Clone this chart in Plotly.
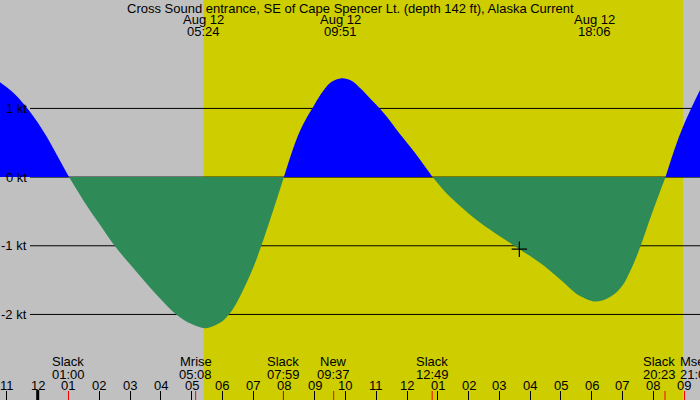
import plotly.graph_objects as go

# ---- data (hours relative to midnight Aug 12; speeds in knots) ----
flood1_t = [-1.225, -0.75, -0.25, 0.25, 0.65, 1.017]
flood1_v = [1.38, 1.21, 0.95, 0.62, 0.30, 0.0]

ebb1_t = [1.017, 1.5, 2.0, 2.5, 3.0, 3.5, 4.0, 4.5, 5.0, 5.435, 5.75, 6.0, 6.25, 6.5, 7.0, 7.5, 8.0]
ebb1_v = [0.0, -0.35, -0.68, -1.0, -1.27, -1.53, -1.78, -2.0, -2.14, -2.2, -2.16, -2.1, -1.98, -1.8,
          -1.32, -0.69, 0.0]

flood2_t = [8.0, 8.5, 9.0, 9.25, 9.5, 9.7, 9.88, 10.05, 10.25, 10.5, 10.75, 11.25, 11.75, 12.25, 12.83]
flood2_v = [0.0, 0.65, 1.06, 1.24, 1.37, 1.42, 1.44, 1.43, 1.39, 1.285, 1.17, 0.93, 0.64, 0.36, 0.0]

ebb2_t = [12.83, 13.25, 13.75, 14.25, 14.75, 15.25, 15.65, 16.0, 16.5, 17.0, 17.5, 17.8, 18.11, 18.4,
          18.75, 19.0, 19.25, 19.5, 20.0, 20.40]
ebb2_v = [0.0, -0.22, -0.43, -0.62, -0.78, -0.93, -1.05, -1.15, -1.31, -1.50, -1.70, -1.77, -1.81, -1.79,
          -1.70, -1.58, -1.37, -1.11, -0.48, 0.0]

flood3_t = [20.40, 20.75, 21.1, 21.52]
flood3_v = [0.0, 0.48, 0.87, 1.27]

now_t = [15.65]
now_v = [-1.05]

x_range = [-1.225, 21.52]
y_range = [-3.246, 2.579]

sunrise = 5.39
sunset = 20.965

tick_hours = list(range(-1, 22))
tick_labels = ["11", "12", "01", "02", "03", "04", "05", "06", "07", "08", "09", "10",
               "11", "12", "01", "02", "03", "04", "05", "06", "07", "08", "09"]

grid_values = [1, 0, -1, -2]
grid_labels = ["1 kt", "0 kt", "-1 kt", "-2 kt"]

event_t = [1.0, 5.133, 7.983, 9.617, 12.817, 20.383, 21.017]
event_name = ["Slack", "Mrise", "Slack", "New", "Slack", "Slack", "Mset"]
event_time = ["01:00", "05:08", "07:59", "09:37", "12:49", "20:23", "21:01"]
event_shift = [0, 0, 0, 0, 0, -6, -7]
event_anchor = ["center", "center", "center", "center", "center", "center", "left"]

top_t = [5.4, 9.85, 18.1]
top_date = ["Aug 12", "Aug 12", "Aug 12"]
top_time = ["05:24", "09:51", "18:06"]

title = "Cross Sound entrance, SE of Cape Spencer Lt. (depth 142 ft), Alaska Current"

FLOOD = "#0000FF"
EBB = "#2E8B57"
NIGHT = "#C0C0C0"
DAY = "#CDCD00"
FONT = "Liberation Sans"
FS = 13

W, H = 700, 400

fig = go.Figure()

segments = [(flood1_t, flood1_v, FLOOD), (ebb1_t, ebb1_v, EBB), (flood2_t, flood2_v, FLOOD),
            (ebb2_t, ebb2_v, EBB), (flood3_t, flood3_v, FLOOD)]
for t, v, c in segments:
    fig.add_trace(go.Scatter(x=t, y=v, mode="lines",
                             line=dict(width=0, color=c, shape="spline", smoothing=1.0, simplify=False),
                             fill="tozeroy", fillcolor=c, hoverinfo="skip", showlegend=False))

fig.add_trace(go.Scatter(x=now_t, y=now_v, mode="markers",
                         marker=dict(symbol="cross-thin", size=11, line=dict(width=1.2, color="black")),
                         showlegend=False, hoverinfo="skip"))

shapes = []
shapes.append(dict(type="rect", xref="paper", yref="paper", x0=0, x1=1, y0=0, y1=1,
                   fillcolor=NIGHT, line=dict(width=0), layer="below"))
shapes.append(dict(type="rect", xref="x", yref="paper", x0=sunrise, x1=sunset, y0=0, y1=1,
                   fillcolor=DAY, line=dict(width=0), layer="below"))
for g in grid_values:
    shapes.append(dict(type="line", xref="paper", yref="y", x0=30 / W, x1=1, y0=g, y1=g,
                       line=dict(color="black", width=1), layer="below"))
shapes.append(dict(type="line", xref="x", yref="paper", x0=0, x1=0, y0=0, y1=10 / H,
                   line=dict(color="black", width=3)))
for t in event_t:
    shapes.append(dict(type="line", xref="x", yref="paper", x0=t, x1=t, y0=0, y1=9 / H,
                       line=dict(color="red", width=1)))

annotations = []
def txt(text, xref, x, ypx, xanchor="center", xshift=0):
    annotations.append(dict(text=text, xref=xref, yref="paper", x=x, y=1 - ypx / H, showarrow=False,
                            xshift=xshift, font=dict(family=FONT, size=FS, color="black"),
                            xanchor=xanchor, yanchor="middle"))

txt(title, "paper", 0.5, 8)
for t, d, tm in zip(top_t, top_date, top_time):
    txt(d, "x", t, 19.5)
    txt(tm, "x", t, 31.5)
for g, lab in zip(grid_values, grid_labels):
    annotations.append(dict(text=lab, xref="paper", yref="y", x=29 / W, y=g, showarrow=False,
                            font=dict(family=FONT, size=FS, color="black"), xanchor="right", yanchor="middle"))
for t, n, tm, sh, an in zip(event_t, event_name, event_time, event_shift, event_anchor):
    txt(n, "x", t, 361, an, sh)
    txt(tm, "x", t, 374, an, sh)
for h, lab in zip(tick_hours, tick_labels):
    txt(lab, "x", h, 385.5)

fig.update_layout(
    width=W, height=H,
    margin=dict(l=0, r=0, t=0, b=0),
    paper_bgcolor=NIGHT, plot_bgcolor=NIGHT,
    shapes=shapes, annotations=annotations,
    xaxis=dict(range=x_range, showgrid=False, zeroline=False, showline=False,
               tickvals=tick_hours, ticktext=tick_labels, showticklabels=False,
               ticks="inside", ticklen=9, tickcolor="black", tickwidth=1, fixedrange=True),
    yaxis=dict(range=y_range, showgrid=False, zeroline=False, showline=False,
               showticklabels=False, ticks="", fixedrange=True),
    showlegend=False,
)

fig.write_html("out.html", config={"displayModeBar": False},
               post_script="document.body.style.margin='0';document.body.style.overflow='hidden';")
